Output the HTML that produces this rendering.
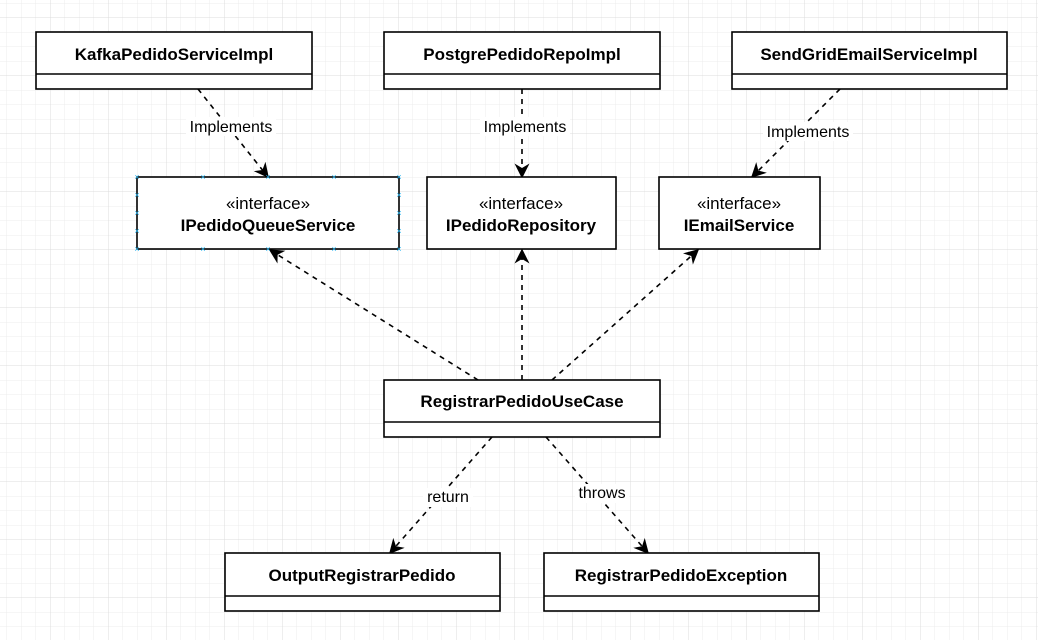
<!DOCTYPE html>
<html><head><style>
body{margin:0;background:#fff}
svg{display:block;font-family:"Liberation Sans",Arial,sans-serif}
</style></head><body>
<svg width="1038" height="640" xmlns="http://www.w3.org/2000/svg">
<defs>
<pattern id="g" x="-8" y="17.5" width="14.5" height="14.5" patternUnits="userSpaceOnUse">
<path d="M0 0H14.5M0 0V14.5" stroke="#ececec" stroke-width="1" fill="none"/>
</pattern>
<pattern id="G" x="-8" y="17.5" width="58" height="58" patternUnits="userSpaceOnUse">
<path d="M0 0H58M0 0V58" stroke="#dcdcdc" stroke-width="1" fill="none"/>
</pattern>
<marker id="a" viewBox="0 0 10 10" refX="9" refY="5" markerWidth="15" markerHeight="15" markerUnits="userSpaceOnUse" orient="auto">
<path d="M0 0L10 5L0 10L3 5Z" fill="#000"/>
</marker>
</defs>
<rect width="1038" height="640" fill="url(#g)"/>
<rect width="1038" height="640" fill="url(#G)"/>
<g stroke="#000" stroke-width="1.6" stroke-dasharray="5,5" fill="none" marker-end="url(#a)">
<path d="M198 89L268 177"/>
<path d="M522 89L522 177"/>
<path d="M840 89L752 177"/>
<path d="M478 380L270 250"/>
<path d="M522 380L522 250"/>
<path d="M552 380L698 250"/>
<path d="M492 437L390 553"/>
<path d="M546 437L648 553"/>
</g>
<g font-size="16" text-anchor="middle" fill="#000">
<rect x="186" y="117" width="90" height="19" fill="#fff"/><text x="231" y="132">Implements</text>
<rect x="480" y="117" width="90" height="19" fill="#fff"/><text x="525" y="132">Implements</text>
<rect x="763" y="122" width="90" height="19" fill="#fff"/><text x="808" y="137">Implements</text>
<rect x="423" y="488" width="50" height="19" fill="#fff"/><text x="448" y="502">return</text>
<rect x="575" y="484" width="54" height="19" fill="#fff"/><text x="602" y="498">throws</text>
</g>
<g stroke="#000" stroke-width="1.6" fill="#fff">
<rect x="36" y="32" width="276" height="57"/><path d="M36 74H312"/>
<rect x="384" y="32" width="276" height="57"/><path d="M384 74H660"/>
<rect x="732" y="32" width="275" height="57"/><path d="M732 74H1007"/>
<rect x="137" y="177" width="262" height="72"/>
<rect x="427" y="177" width="189" height="72"/>
<rect x="659" y="177" width="161" height="72"/>
<rect x="384" y="380" width="276" height="57"/><path d="M384 422H660"/>
<rect x="225" y="553" width="275" height="58"/><path d="M225 596H500"/>
<rect x="544" y="553" width="275" height="58"/><path d="M544 596H819"/>
</g>
<g fill="#29b6f2" font-size="9" text-anchor="middle">
<text x="137" y="180">×</text><text x="203" y="180">×</text><text x="268" y="180">×</text><text x="334" y="180">×</text><text x="399" y="180">×</text>
<text x="137" y="252">×</text><text x="203" y="252">×</text><text x="268" y="252">×</text><text x="334" y="252">×</text><text x="399" y="252">×</text>
<text x="137" y="198">×</text><text x="137" y="216">×</text><text x="137" y="234">×</text>
<text x="399" y="198">×</text><text x="399" y="216">×</text><text x="399" y="234">×</text>
</g>
<g font-size="17" font-weight="bold" text-anchor="middle" fill="#000">
<text x="174" y="60">KafkaPedidoServiceImpl</text>
<text x="522" y="60">PostgrePedidoRepoImpl</text>
<text x="869" y="60">SendGridEmailServiceImpl</text>
<text x="268" y="231">IPedidoQueueService</text>
<text x="521" y="231">IPedidoRepository</text>
<text x="739" y="231">IEmailService</text>
<text x="522" y="407">RegistrarPedidoUseCase</text>
<text x="362" y="581">OutputRegistrarPedido</text>
<text x="681" y="581">RegistrarPedidoException</text>
</g>
<g font-size="17" text-anchor="middle" fill="#000">
<text x="268" y="209">«interface»</text>
<text x="521" y="209">«interface»</text>
<text x="739" y="209">«interface»</text>
</g>
</svg>
</body></html>
